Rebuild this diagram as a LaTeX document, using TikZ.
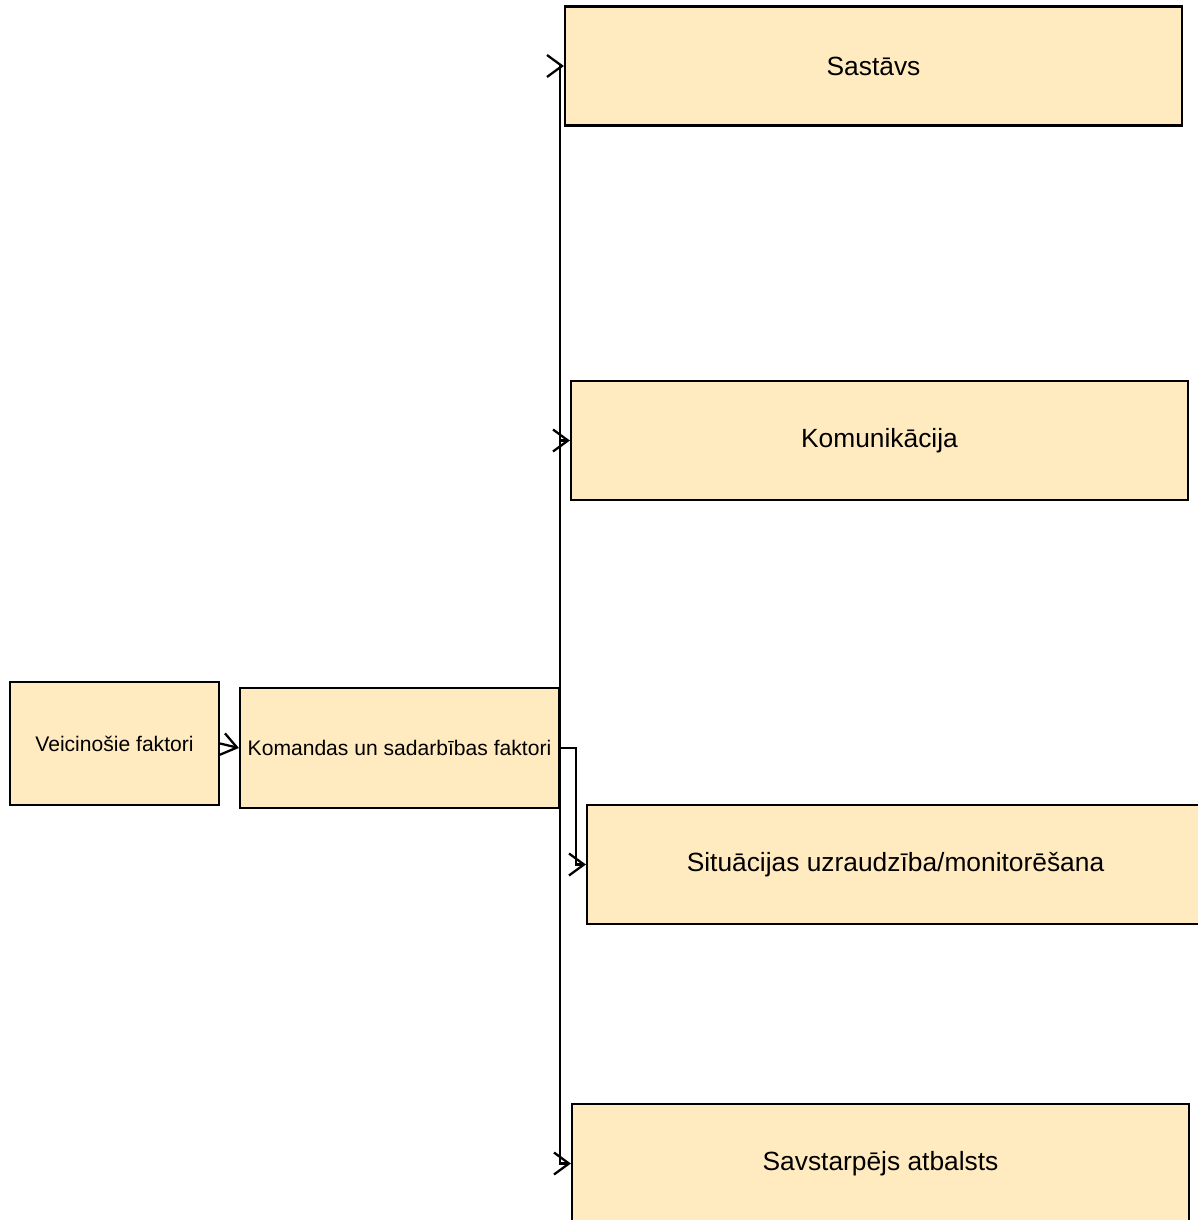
\documentclass[tikz,border=0pt]{standalone}
\usepackage{fontspec}
\setmainfont{Liberation Sans}
\usepackage{tikz}
\usetikzlibrary{arrows.meta, positioning}
\usepackage{xcolor}
\definecolor{boxfill}{RGB}{255,235,191}

\tikzset{
  factor/.style={draw=black, line width=1.3pt, fill=boxfill, inner sep=2pt,
    font=\fontsize{12}{14}\selectfont},
  bigfactor/.style={factor, minimum width=12.34cm, minimum height=2.38cm,
    font=\fontsize{15}{18}\selectfont},
  link/.style={line width=1.3pt, -{Straight Barb[length=3mm, width=4.4mm, line width=1.3pt]}}
}

\begin{document}
\begin{tikzpicture}[x=0.02cm, y=-0.02cm]
  \useasboundingbox (0,0) rectangle (1197,1220);
  % left part
  \node[factor, minimum width=4.18cm, minimum height=2.46cm] (veic) at (114.5,743.5) {Veicinošie faktori};
  \node[factor, minimum width=6.38cm, minimum height=2.4cm] (koman) at (399.5,748) {Komandas un sadarbības faktori};
  % right column
  \node[bigfactor] (sastavs) at (873.5,66) {Sastāvs};
  \node[bigfactor] (komun) at (879.5,440.5) {Komunikācija};
  \node[bigfactor] (situ) at (895.5,864.5) {Situācijas uzraudzība/monitorēšana};
  \node[bigfactor] (atbalsts) at (880.5,1163.5) {Savstarpējs atbalsts};
  % connectors
  \draw[link] (veic.east) -- (koman.west);
  \draw[link] (koman.east) |- (sastavs.west);
  \draw[link] (koman.east) |- (komun.west);
  \draw[link] (koman.east) -- ++(16,0) |- (situ.west);
  \draw[link] (koman.east) |- (atbalsts.west);
\end{tikzpicture}
\end{document}
